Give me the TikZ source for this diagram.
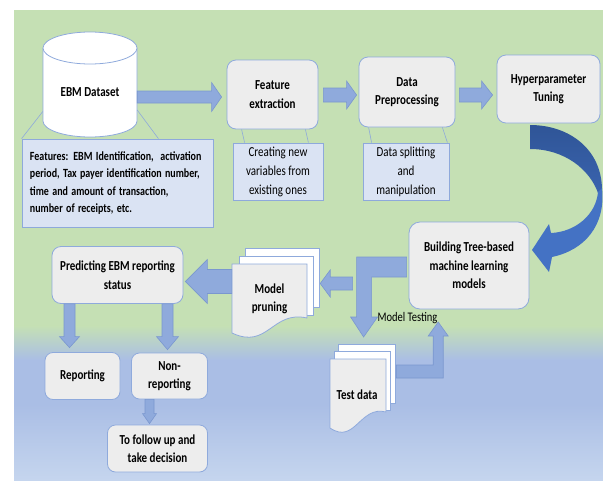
\documentclass[tikz,border=0pt]{standalone}
\usepackage{fontspec}
\setmainfont{Carlito}
\usepackage{graphicx}
\usetikzlibrary{calc}
\definecolor{bggreen}{HTML}{C5E0B4}
\definecolor{bgblue}{HTML}{AABEE5}
\definecolor{bglight}{HTML}{C5D5EE}
\definecolor{boxfill}{HTML}{EDEDED}
\definecolor{boxdraw}{HTML}{8FAADC}
\definecolor{callfill}{HTML}{DAE3F3}
\definecolor{calldraw}{HTML}{8EA9DB}
\definecolor{arrowfill}{HTML}{8FAADC}
\definecolor{arrowdraw}{HTML}{7A97CF}
\definecolor{curvedark}{HTML}{2F5597}
\definecolor{curvemid}{HTML}{3A63AE}
\definecolor{curvelight}{HTML}{4472C4}
\newcommand\vs[1]{\scalebox{1}[1.25]{#1}}
\newcommand\rarrow[5]{\draw[barrow] let \p1=#1, \p2=#2 in (\x1,\y2+#3pt) -- (\x2-#5pt,\y2+#3pt) -- (\x2-#5pt,\y2+#4pt) -- (\x2,\y2) -- (\x2-#5pt,\y2-#4pt) -- (\x2-#5pt,\y2-#3pt) -- (\x1,\y2-#3pt) -- cycle;}
\newcommand\larrow[5]{\draw[barrow] let \p1=#1, \p2=#2 in (\x1,\y2+#3pt) -- (\x2+#5pt,\y2+#3pt) -- (\x2+#5pt,\y2+#4pt) -- (\x2,\y2) -- (\x2+#5pt,\y2-#4pt) -- (\x2+#5pt,\y2-#3pt) -- (\x1,\y2-#3pt) -- cycle;}
\newcommand\darrow[5]{\draw[barrow] let \p1=#1, \p2=#2 in (\x2-#3pt,\y1) -- (\x2-#3pt,\y2+#5pt) -- (\x2-#4pt,\y2+#5pt) -- (\x2,\y2) -- (\x2+#4pt,\y2+#5pt) -- (\x2+#3pt,\y2+#5pt) -- (\x2+#3pt,\y1) -- cycle;}
\begin{document}
\begin{tikzpicture}[x=1pt,y=-1pt,
  box/.style={draw=boxdraw, fill=boxfill, line width=0.8pt, rounded corners=9pt, inner sep=0pt, align=center, font=\bfseries\fontsize{11}{18.5}\selectfont},
  call/.style={draw=calldraw, fill=callfill, line width=0.8pt, inner sep=0pt, align=center, font=\fontsize{11}{19}\selectfont},
  barrow/.style={draw=arrowdraw, fill=arrowfill, line width=0.6pt},
  page/.style={draw=boxdraw, line width=0.8pt},
  leader/.style={draw=calldraw, line width=0.6pt},
  lbl/.style={inner sep=0pt, align=center, font=\bfseries\fontsize{11}{18.5}\selectfont}]
\useasboundingbox (0,0) rectangle (603,480);
% background
\fill[white] (0,0) rectangle (603,480);
\fill[bggreen] (14,10) rectangle (603,326);
\shade[top color=bggreen, bottom color=bgblue] (14,325.5) rectangle (603,360);
\fill[bgblue] (14,359.5) rectangle (603,405);
\shade[top color=bgblue, bottom color=bglight] (14,404.5) rectangle (603,480);
% cylinder
\fill[white] (43,48) -- (43,121) arc[start angle=180, end angle=0, x radius=47, y radius=16] -- (137,48) -- cycle;
\draw[boxdraw, line width=0.8pt] (43,48) -- (43,121) arc[start angle=180, end angle=0, x radius=47, y radius=16] -- (137,48);
\draw[boxdraw, line width=0.8pt, fill=white] (90,48) ellipse[x radius=47, y radius=16];
\node[lbl, minimum width=94pt, minimum height=89pt] (ebm) at (90,92.5) {\vs{EBM Dataset}};
% boxes
\node[box, minimum width=91pt, minimum height=69pt] (fe) at (272.5,94.5) {\vs{Feature}\\\vs{extraction}};
\node[box, minimum width=96pt, minimum height=70pt] (dp) at (407,92) {\vs{Data}\\\vs{Preprocessing}};
\node[box, minimum width=103pt, minimum height=68pt] (ht) at (548.5,89) {\vs{Hyperparameter}\\\vs{Tuning}};
\node[box, minimum width=120pt, minimum height=87pt, rounded corners=11pt] (bt) at (469,265.5) {\vs{Building Tree-based}\\\vs{machine learning}\\\vs{models}};
\node[box, minimum width=131pt, minimum height=57pt] (pred) at (117.5,275) {\vs{Predicting EBM reporting}\\\vs{status}};
\node[box, minimum width=75pt, minimum height=47pt, rounded corners=8pt] (rep) at (82.5,376) {\vs{Reporting}};
\node[box, minimum width=76pt, minimum height=46pt, rounded corners=8pt] (nonrep) at (169.5,376) {\vs{Non-}\\\vs{reporting}};
\node[box, minimum width=100pt, minimum height=47pt, rounded corners=8pt] (fol) at (157.5,448.5) {\vs{To follow up and}\\\vs{take decision}};
% callouts
\node[call, minimum width=191pt, minimum height=88pt, align=left, text width=175pt, font=\bfseries\fontsize{10}{17.5}\selectfont] (c1) at (117.5,183) {\vs{Features: EBM Identification,\ \ activation}\\\vs{period, Tax payer identification number,}\\\vs{time and amount of transaction,}\\\vs{number of receipts, etc.}};
\node[call, minimum width=90pt, minimum height=57pt] (c2) at (278,171.5) {\vs{Creating new}\\\vs{variables from}\\\vs{existing ones}};
\node[call, minimum width=86pt, minimum height=57pt] (c3) at (406,171.5) {\vs{Data splitting}\\\vs{and}\\\vs{manipulation}};
\draw[leader] ($(ebm.west)+(0,19)$) -- (c1.north west);
\draw[leader] ($(ebm.east)+(0,17.5)$) -- ($(c1.north east)+(-55,0)$);
\draw[leader] ($(fe.south west)+(15,0)$) -- ($(c2.north west)+(12,0)$);
\draw[leader] ($(fe.south east)+(-13,0)$) -- ($(c2.north east)+(-15,0)$);
\draw[leader] ($(dp.south west)+(10,0)$) -- ($(c3.north west)+(9,0)$);
\draw[leader] ($(dp.south east)+(-13,0)$) -- ($(c3.north east)+(-2,0)$);
% model pruning documents
\node[lbl, minimum width=75pt, minimum height=72pt] (prune) at (269.5,300) {};
\draw[page, fill=white] (245,248) rectangle (319,307);
\draw[page, fill=white] (239,256) rectangle (313,315);
\draw[page, fill=boxfill] (232,264) -- (307,264) -- (307,318) .. controls (272,310) and (268,350) .. (232,333) -- cycle;
\node[lbl] at (269.5,299) {\vs{Model}\\\vs{pruning}};
% test data documents
\node[lbl, minimum width=56pt, minimum height=72pt] (test) at (358,395) {};
\draw[page, fill=white] (338,344) rectangle (395,403);
\draw[page, fill=white] (334,351) rectangle (390,410);
\draw[page, fill=boxfill] (330,359) -- (386,359) -- (386,412) .. controls (360,405) and (355,445) .. (330,428) -- cycle;
\node[lbl] at (357,395) {\vs{Test data}};
% straight block arrows
\rarrow{(ebm.east)}{($(fe.west)+(-5,2.5)$)}{6}{14.5}{10}
\rarrow{($(fe.east)+(5,0)$)}{($(dp.west)+(-2,3)$)}{7}{14}{10}
\rarrow{($(dp.east)+(4,0)$)}{($(ht.west)+(-4,6)$)}{7}{14}{11}
\larrow{($(bt.west)+(-56,0)$)}{($(prune.east)+(13,-16.5)$)}{6.5}{13.5}{10}
\larrow{(prune.west)}{($(pred.east)+(2,6.5)$)}{12}{22}{22}
\darrow{(pred.south)}{($(rep.north)+(-13,-4.5)$)}{5.5}{10}{11}
\darrow{(pred.south)}{($(nonrep.north)+(-2,-3)$)}{5.5}{11}{13}
\darrow{(nonrep.south)}{($(fol.north)+(-8,-1)$)}{4.5}{7}{10}
% elbow arrow: building -> test data
\draw[barrow] ($(bt.west)+(-2,-8.5)$) -- ($(bt.west)+(-52,-8.5)$) -- ($(bt.west)+(-52,51.5)$) -- ($(bt.west)+(-58,51.5)$) -- ($(bt.west)+(-45,71.5)$) -- ($(bt.west)+(-31,51.5)$) -- ($(bt.west)+(-37,51.5)$) -- ($(bt.west)+(-37,11.5)$) -- ($(bt.west)+(-2,11.5)$) -- cycle;
% elbow arrow: test data -> building
\draw[barrow] ($(test.east)+(10,-30)$) -- ($(test.east)+(47,-30)$) -- ($(test.east)+(47,-59)$) -- ($(test.east)+(42,-59)$) -- ($(test.east)+(52,-73)$) -- ($(test.east)+(62,-59)$) -- ($(test.east)+(57,-59)$) -- ($(test.east)+(57,-17)$) -- ($(test.east)+(10,-17)$) -- cycle;
\node[inner sep=0pt, font=\fontsize{10.5}{12}\selectfont] (mt) at (407.5,318) {\vs{Model Testing}};
% curved arrow: tuning -> building
\shade[top color=curvedark, bottom color=curvemid] (530,125) .. controls (570,125) and (602,150) .. (602,190) -- (598,193) .. controls (590,170) and (565,149) .. (530,149) -- cycle;
\fill[curvelight] (602,188) .. controls (606,225) and (585,250) .. (552,257) -- (549,272) -- (532,250) -- (549,224) -- (551,233) .. controls (575,232) and (596,215) .. (598,192) -- cycle;
\end{tikzpicture}
\end{document}
